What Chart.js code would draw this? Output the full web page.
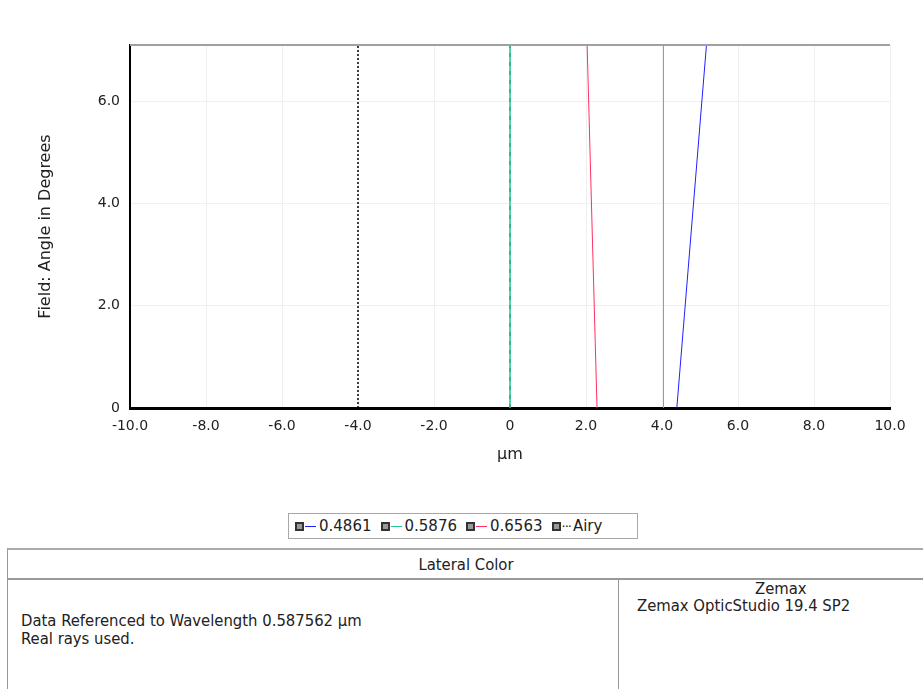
<!DOCTYPE html>
<html>
<head>
<meta charset="utf-8">
<script src="https://cdn.jsdelivr.net/npm/chart.js@4.4.1/dist/chart.umd.min.js"></script>
<style>
    body { margin: 0; width: 923px; height: 689px; background: #fff; position: relative; overflow: hidden; font-family: "DejaVu Sans", Verdana, sans-serif; }
    #chart-wrap { position: absolute; left: 0; top: 0; width: 923px; height: 500px; }
    #legend { position: absolute; left: 288px; top: 513px; width: 350px; height: 26px; border: 1px solid #a8a8a8; font-size: 15px; color: #222; display: flex; align-items: center; padding-left: 6px; box-sizing: border-box; white-space: nowrap; }
    .item { display: flex; align-items: center; margin-right: 9px; }
    .box { width: 9px; height: 9px; border: 2px solid #333; background: #999; margin-right: 1px; box-sizing: border-box; }
    .swatch { width: 11px; height: 0; border-top: 1.5px solid; margin-right: 3px; }
    .dots { font-size: 13px; margin-right: 2px; letter-spacing: -1px; }
    #info { position: absolute; left: 7px; top: 548px; width: 930px; height: 150px; border-left: 1.5px solid #999; border-top: 2px solid #aaa; font-family: "DejaVu Sans Condensed", "DejaVu Sans", sans-serif; font-size: 16.5px; color: #222; }
    #info .head { position: absolute; left: 0; top: 0; width: 916px; height: 28px; border-bottom: 2px solid #999; text-align: center; line-height: 30px; }
    #info .divider { position: absolute; left: 610px; top: 30px; height: 130px; border-left: 1.5px solid #999; }
    .txt { position: absolute; white-space: nowrap; }
</style>
</head>
<body>
<div id="chart-wrap"><canvas id="lateral-chart" width="923" height="500"></canvas></div>
<div id="legend"></div>
<div id="info">
    <div class="head">Lateral Color</div>
    <div class="divider"></div>
    <div class="txt" style="left: 13px; top: 61px;">Data Referenced to Wavelength 0.587562 µm</div>
    <div class="txt" style="left: 13px; top: 79px;">Real rays used.</div>
    <div class="txt" style="left: 747px; top: 29px;">Zemax</div>
    <div class="txt" style="left: 629px; top: 46px;">Zemax OpticStudio 19.4 SP2</div>
</div>
<script>
// field angle (degrees) at the two ends of each curve
const fieldAngles = [0, 7.1];
// lateral shift in µm for each wavelength
const shift4861 = [4.39, 5.17];
const shift5876 = [0, 0];
const shift6563 = [2.29, 2.03];
// Airy disk limits
const airyLeft = [-4.0, -4.0];
const airyRight = [4.04, 4.04];
const legendLabels = ['0.4861', '0.5876', '0.6563', 'Airy'];
const xTicks = [-10, -8, -6, -4, -2, 0, 2, 4, 6, 8, 10];
const yTicks = [0, 2, 4, 6];

const toPoints = (xs) => xs.map((x, i) => ({ x: x, y: fieldAngles[i] }));

const lineSet = (label, xs, color, extra) => Object.assign({
    label: label,
    data: toPoints(xs),
    borderColor: color,
    backgroundColor: color,
    borderWidth: 1,
    showLine: true,
    pointRadius: 0
}, extra || {});

const topBorder = {
    id: 'topBorder',
    afterDraw(chart) {
        const { ctx, chartArea } = chart;
        ctx.save();
        ctx.strokeStyle = '#a0a0a0';
        ctx.lineWidth = 2;
        ctx.beginPath();
        ctx.moveTo(chartArea.left, chartArea.top);
        ctx.lineTo(chartArea.right, chartArea.top);
        ctx.stroke();
        ctx.restore();
    }
};

const fmt = (v) => v === 0 ? '0' : v.toFixed(1);

const ctx = document.getElementById('lateral-chart').getContext('2d');
const lateralChart = new Chart(ctx, {
    type: 'scatter',
    data: {
        datasets: [
            lineSet(legendLabels[0], shift4861, '#2020ff'),
            lineSet(legendLabels[1], shift5876, '#20c890', { borderWidth: 1.5 }),
            lineSet(legendLabels[2], shift6563, '#ff3060'),
            lineSet(legendLabels[3], airyLeft, '#000', { borderDash: [2, 2], borderWidth: 1.5 }),
            lineSet(legendLabels[3], airyRight, '#9a9a9a'),
            lineSet(legendLabels[3], shift5876, '#000', { borderDash: [4, 5], borderWidth: 1 })
        ]
    },
    options: {
        responsive: false,
        animation: false,
        layout: { padding: { top: 45, right: 33, left: 0, bottom: 36 } },
        plugins: { legend: { display: false }, tooltip: { enabled: false } },
        scales: {
            x: {
                type: 'linear',
                min: -10,
                max: 10,
                afterBuildTicks: (s) => { s.ticks = xTicks.map(v => ({ value: v })); },
                afterFit: (s) => { s.height = 56; },
                ticks: { callback: fmt, color: '#222', font: { family: 'DejaVu Sans', size: 14 }, padding: 10, maxRotation: 0 },
                grid: { color: '#f0f0f0', drawTicks: false },
                border: { color: '#000', width: 3 },
                title: { display: true, text: 'µm', align: 'center', color: '#222', font: { family: 'DejaVu Sans', size: 16 }, padding: { top: 0, bottom: 0 } }
            },
            y: {
                type: 'linear',
                min: 0,
                max: 7.1,
                afterBuildTicks: (s) => { s.ticks = yTicks.map(v => ({ value: v })); },
                afterFit: (s) => { s.width = 130; },
                ticks: { callback: fmt, color: '#222', font: { family: 'DejaVu Sans', size: 14 }, padding: 10 },
                grid: { color: '#f0f0f0', drawTicks: false },
                border: { color: '#000', width: 2 },
                title: { display: true, text: 'Field: Angle in Degrees', color: '#222', font: { family: 'DejaVu Sans', size: 16 }, padding: { top: 36, bottom: 0 } }
            }
        }
    },
    plugins: [topBorder]
});

// legend row built from the dataset labels
const legendColors = ['#2020ff', '#20c890', '#ff3060', null];
const legendEl = document.getElementById('legend');
legendLabels.forEach((lab, i) => {
    const item = document.createElement('div');
    item.className = 'item';
    const box = document.createElement('span');
    box.className = 'box';
    item.appendChild(box);
    if (legendColors[i]) {
        const sw = document.createElement('span');
        sw.className = 'swatch';
        sw.style.borderTopColor = legendColors[i];
        item.appendChild(sw);
    } else {
        const d = document.createElement('span');
        d.className = 'dots';
        d.textContent = '···';
        item.appendChild(d);
    }
    const t = document.createElement('span');
    t.textContent = lab;
    item.appendChild(t);
    legendEl.appendChild(item);
});
</script>
</body>
</html>
